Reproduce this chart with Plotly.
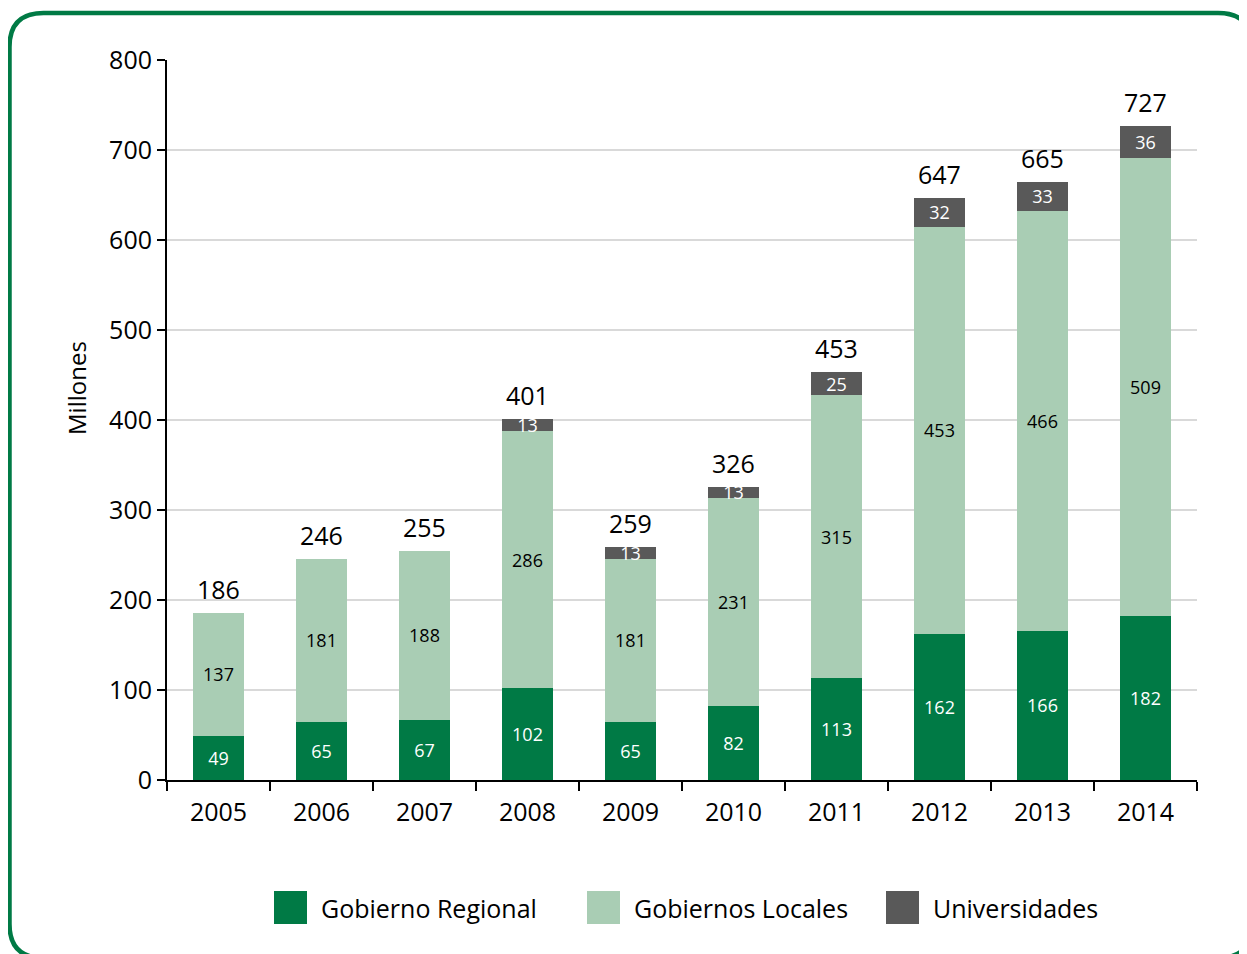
import plotly.graph_objects as go

years = ["2005", "2006", "2007", "2008", "2009", "2010", "2011", "2012", "2013", "2014"]
gob_regional = [49, 65, 67, 102, 65, 82, 113, 162, 166, 182]
gob_locales = [137, 181, 188, 286, 181, 231, 315, 453, 466, 509]
universidades = [None, None, None, 13, 13, 13, 25, 32, 33, 36]
totals = [186, 246, 255, 401, 259, 326, 453, 647, 665, 727]
series_names = ["Gobierno Regional", "Gobiernos Locales", "Universidades"]
y_title = "Millones"
colors = ["#007A45", "#A9CDB4", "#595959"]
text_colors = ["white", "black", "white"]

FONT = "Open Sans"
OFF = 8  # default page body margin
W, H = 1247 - OFF, 954 - OFF
PLOT_L, PLOT_R, PLOT_T, PLOT_B = 167, 1197, 60, 780  # page pixels
L, T = PLOT_L - OFF, PLOT_T - OFF
R = W - (PLOT_R - OFF)
B = H - (PLOT_B - OFF)
PW, PH = PLOT_R - PLOT_L, PLOT_B - PLOT_T


def px_x(p):
    return (p - PLOT_L) / PW


def px_y(p):
    return (PLOT_B - p) / PH


fig = go.Figure()
for name, vals, col, tcol in zip(series_names, [gob_regional, gob_locales, universidades], colors, text_colors):
    fig.add_trace(go.Bar(
        x=years, y=vals, name=name, marker_color=col, marker_line_width=0,
        text=["" if v is None else str(v) for v in vals],
        textposition="inside", insidetextanchor="middle", textangle=0,
        constraintext="none",
        textfont=dict(family=FONT, size=18, color=tcol),
        showlegend=False,
    ))

annotations = []
for i, tot in enumerate(totals):
    annotations.append(dict(x=i, y=tot, xref="x", yref="y", text=str(tot), showarrow=False,
                            yanchor="bottom", yshift=5,
                            font=dict(family=FONT, size=25, color="black")))

annotations.append(dict(x=px_x(76), y=px_y(388), xref="paper", yref="paper", text=y_title,
                        showarrow=False, textangle=-90, xanchor="center", yanchor="middle",
                        font=dict(family=FONT, size=24, color="black")))

shapes = []
# rounded border
x0, x1 = px_x(9.5), px_x(1252)
y0, y1 = px_y(958), px_y(13)
rx, ry = 34 / PW, 34 / PH
path = (f"M {x0+rx},{y1} L {x1-rx},{y1} Q {x1},{y1} {x1},{y1-ry} L {x1},{y0+ry} "
        f"Q {x1},{y0} {x1-rx},{y0} L {x0+rx},{y0} Q {x0},{y0} {x0},{y0+ry} "
        f"L {x0},{y1-ry} Q {x0},{y1} {x0+rx},{y1} Z")
shapes.append(dict(type="path", path=path, xref="paper", yref="paper",
                   line=dict(color="#007A45", width=4.5), layer="below"))

# manual legend
leg_sq_x = [274, 587, 886]
for sx, name, col in zip(leg_sq_x, series_names, colors):
    shapes.append(dict(type="rect", xref="paper", yref="paper",
                       x0=px_x(sx), x1=px_x(sx + 33), y0=px_y(924), y1=px_y(891),
                       fillcolor=col, line_width=0))
    annotations.append(dict(x=px_x(sx + 45), y=px_y(908), xref="paper", yref="paper",
                            text=name, showarrow=False, xanchor="left", yanchor="middle",
                            font=dict(family=FONT, size=25, color="black")))

fig.update_layout(
    barmode="stack", bargap=0.5,
    width=W, height=H,
    margin=dict(l=L, r=R, t=T, b=B),
    paper_bgcolor="white", plot_bgcolor="white",
    font=dict(family=FONT, color="black"),
    shapes=shapes, annotations=annotations,
    showlegend=False,
)
fig.update_xaxes(
    type="category", showline=True, linecolor="black", linewidth=2,
    ticks="outside", tickson="boundaries", ticklen=9, tickwidth=2, tickcolor="black",
    tickfont=dict(family=FONT, size=25, color="black"), showgrid=False,
    tickangle=0, ticklabelstandoff=9,
)
fig.update_yaxes(
    range=[0, 800], dtick=100, showline=True, linecolor="black", linewidth=2,
    ticks="outside", ticklen=8, tickwidth=2, tickcolor="black",
    tickfont=dict(family=FONT, size=25, color="black"),
    showgrid=True, gridcolor="#D9D9D9", gridwidth=1.5, zeroline=False,
)

fig.write_html("out.html")
